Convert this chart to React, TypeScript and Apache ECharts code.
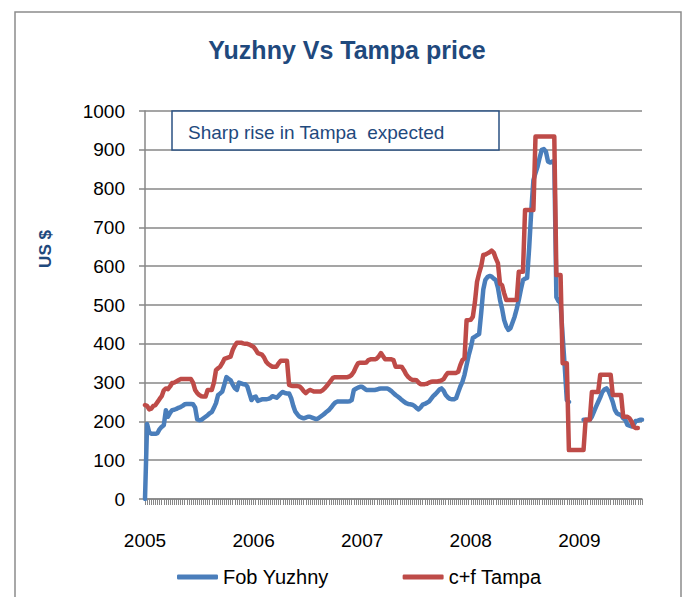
import React, { useEffect, useRef } from "react";
import * as echarts from "echarts";

// ---- data (weekly, Jan 2005 - Jul 2009) ----
const yearLabels = ["2005", "2006", "2007", "2008", "2009"];
const yearStartIndex = [0, 52, 104, 156, 208];
const seriesNames = ["Fob Yuzhny", "c+f Tampa"];
const yMin = 0;
const yMax = 1000;
const yStep = 100;

const fobYuzhny: (number | null)[] = [
  0, 193, 172, 168, 168, 168, 170, 180, 186, 190,
  229, 212, 222, 229, 230, 232, 235, 237, 240, 244,
  245, 245, 245, 244, 236, 205, 203, 204, 208, 212,
  216, 221, 224, 235, 247, 268, 272, 277, 295, 314,
  310, 306, 295, 286, 281, 300, 298, 296, 296, 290,
  272, 255, 262, 264, 253, 255, 257, 257, 257, 258,
  260, 265, 263, 261, 266, 272, 276, 273, 272, 272,
  260, 240, 225, 218, 212, 210, 208, 210, 212, 212,
  210, 208, 206, 208, 212, 216, 220, 225, 229, 235,
  242, 248, 251, 251, 251, 251, 251, 251, 252, 255,
  281, 284, 287, 289, 289, 285, 281, 281, 281, 281,
  281, 282, 284, 285, 285, 285, 285, 282, 278, 273,
  268, 264, 260, 255, 251, 247, 245, 244, 243, 240,
  235, 231, 236, 243, 245, 248, 251, 258, 265, 270,
  276, 282, 285, 279, 268, 262, 258, 257, 257, 260,
  275, 290, 302, 320, 345, 370, 390, 415, 418, 422,
  425, 480, 540, 565, 572, 575, 573, 568, 564, 545,
  513, 490, 461, 445, 436, 440, 455, 470, 490, 513,
  540, 564, 568, 570, 650, 745, 822, 840, 857, 880,
  900, 902, 895, 870, 867, 870, 870, 520, 510, 505,
  420, 341, 255, 250, null, null, null, null, null, null,
  204, 204, 204, 204, 212, 225, 238, 250, 262, 276,
  282, 285, 278, 265, 250, 230, 221, 218, 216, 208,
  204, 191, 189, 187, 192, 201, 202, 204, 204,
];

const cfTampa: (number | null)[] = [
  242, 240, 231, 233, 240, 242, 250, 258, 265, 280,
  285, 283, 290, 299, 300, 303, 306, 309, 309, 309,
  309, 309, 309, 300, 281, 273, 268, 265, 264, 264,
  281, 281, 281, 300, 332, 337, 341, 350, 361, 363,
  365, 367, 384, 395, 403, 403, 403, 401, 400, 400,
  398, 395, 392, 385, 376, 374, 372, 365, 354, 348,
  344, 341, 341, 341, 350, 356, 356, 356, 356, 294,
  292, 291, 291, 291, 290, 285, 278, 273, 278, 281,
  279, 277, 277, 277, 277, 280, 285, 291, 298, 305,
  312, 314, 314, 314, 314, 314, 314, 314, 316, 320,
  328, 340, 350, 351, 351, 351, 352, 358, 360, 360,
  360, 362, 368, 376, 368, 360, 360, 360, 360, 358,
  341, 341, 341, 340, 332, 322, 315, 310, 307, 307,
  306, 300, 296, 296, 296, 297, 300, 302, 303, 303,
  303, 304, 306, 309, 318, 325, 325, 325, 325, 325,
  328, 345, 358, 362, 461, 461, 462, 470, 508, 560,
  582, 600, 629, 630, 633, 636, 640, 635, 620, 608,
  555, 551, 530, 513, 513, 513, 513, 513, 513, 586,
  586, 586, 745, 745, 745, 745, 745, 934, 934, 934,
  934, 934, 934, 934, 934, 934, 934, 577, 577, 577,
  350, 350, 350, 126, 126, 126, 126, 126, 126, 126,
  126, 204, 204, 204, 276, 276, 276, 276, 320, 320,
  320, 320, 320, 320, 268, 268, 268, 268, 268, 212,
  212, 212, 208, 200, 186, 183, 183, null, null,
];

// weekly categories
const startDate = Date.UTC(2005, 0, 3);
const weeks: string[] = fobYuzhny.map((_, i) =>
  new Date(startDate + i * 7 * 86400000).toISOString().slice(0, 10)
);

const FONT = "'Liberation Sans', Arial, sans-serif";
const NAVY = "#1F497D";
const GRID = "#878787";
const BLUE = "#4A7EBB";
const RED = "#BE4B48";

export default function App() {
  const ref = useRef<HTMLDivElement>(null);
  useEffect(() => {
    if (!ref.current) return;
    const chart = echarts.init(ref.current, null, { renderer: "svg" });
    chart.setOption({
      animation: false,
      backgroundColor: "#ffffff",
      textStyle: { fontFamily: FONT },
      grid: { left: 145, top: 111, right: 42, bottom: 98, containLabel: false },
      legend: {
        data: seriesNames,
        left: 172,
        top: 562,
        itemWidth: 41,
        itemHeight: 5,
        itemGap: 74,
        icon: "roundRect",
        textStyle: { fontSize: 20, color: "#000", fontFamily: FONT },
      },
      xAxis: {
        type: "category",
        data: weeks,
        boundaryGap: false,
        axisLine: { show: true, lineStyle: { color: GRID, width: 1.5 } },
        axisTick: {
          show: true,
          interval: 0,
          length: 6,
          lineStyle: { color: GRID, width: 1 },
        },
        axisLabel: {
          interval: 0,
          margin: 32,
          fontSize: 19,
          color: "#000",
          fontFamily: FONT,
          formatter: (_v: string, idx: number) => {
            const k = yearStartIndex.indexOf(idx);
            return k >= 0 ? yearLabels[k] : "";
          },
        },
        splitLine: { show: false },
      },
      yAxis: {
        type: "value",
        min: yMin,
        max: yMax,
        interval: yStep,
        axisLine: { show: true, lineStyle: { color: GRID, width: 1.5 } },
        axisTick: { show: true, length: 6, lineStyle: { color: GRID, width: 1.5 } },
        axisLabel: {
          margin: 20,
          fontSize: 19,
          color: "#000",
          fontFamily: FONT,
          formatter: (v: number) => String(v),
        },
        splitLine: { show: true, lineStyle: { color: GRID, width: 1.5 } },
      },
      series: [
        {
          name: seriesNames[0],
          type: "line",
          data: fobYuzhny,
          showSymbol: false,
          symbol: "none",
          connectNulls: false,
          lineStyle: { color: BLUE, width: 4.5, cap: "round", join: "round" },
          itemStyle: { color: BLUE },
          z: 3,
        },
        {
          name: seriesNames[1],
          type: "line",
          data: cfTampa,
          showSymbol: false,
          symbol: "none",
          connectNulls: false,
          lineStyle: { color: RED, width: 4.5, cap: "round", join: "round" },
          itemStyle: { color: RED },
          z: 4,
        },
      ],
      graphic: [
        {
          type: "rect",
          silent: true,
          z: 0,
          shape: { x: 15, y: 12, width: 666, height: 640 },
          style: { fill: "none", stroke: "#8c8c8c", lineWidth: 1.5 },
        },
        {
          type: "text",
          silent: true,
          x: 347,
          y: 50,
          style: {
            text: "Yuzhny Vs Tampa price",
            fill: NAVY,
            font: `bold 25px ${FONT}`,
            align: "center",
            verticalAlign: "middle",
          },
        },
        {
          type: "text",
          silent: true,
          x: 45,
          y: 249,
          rotation: Math.PI / 2,
          style: {
            text: "US $",
            fill: NAVY,
            font: `bold 17px ${FONT}`,
            align: "center",
            verticalAlign: "middle",
          },
        },
        {
          type: "rect",
          silent: true,
          z: 100,
          shape: { x: 172, y: 111, width: 327, height: 39 },
          style: { fill: "#ffffff", stroke: "#2B5282", lineWidth: 1.5 },
        },
        {
          type: "text",
          silent: true,
          z: 101,
          x: 188,
          y: 132,
          style: {
            text: "Sharp rise in Tampa  expected",
            fill: NAVY,
            font: `19px ${FONT}`,
            align: "left",
            verticalAlign: "middle",
          },
        },
      ],
    });
    return () => chart.dispose();
  }, []);
  return (
    <div
      ref={ref}
      style={{ position: "absolute", left: 0, top: 0, width: 684, height: 597 }}
    />
  );
}
